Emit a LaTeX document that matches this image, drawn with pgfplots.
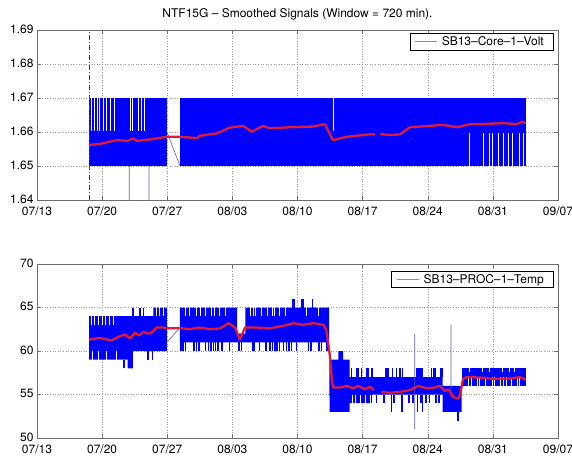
\documentclass[border=0pt]{standalone}
\usepackage{fontspec}
\setmainfont{TeX Gyre Heros}
\usepackage{pgfplots}
\pgfplotsset{compat=1.18}

\definecolor{mblue}{RGB}{0,0,255}
\definecolor{mred}{RGB}{222,28,55}
\definecolor{thinline}{RGB}{95,95,155}
\definecolor{legline}{RGB}{140,140,165}
\definecolor{axgray}{RGB}{110,110,110}
\definecolor{gridgray}{RGB}{150,150,150}

\pgfplotsset{
  mstyle/.style={
    scale only axis, width=521pt,
    xmin=0, xmax=56,
    xtick={0,7,...,56},
    xticklabels={07/13,07/20,07/27,08/03,08/10,08/17,08/24,08/31,09/07},
    tick align=inside, major tick length=4pt,
    axis line style={draw=axgray, line width=0.5pt},
    tick style={draw=axgray, line width=0.5pt},
    grid=major,
    major grid style={dotted, gridgray, line width=0.5pt},
    ticklabel style={font=\fontsize{12}{14}\selectfont},
    xticklabel style={yshift=-3pt},
    yticklabel style={yshift=1pt},
    unbounded coords=jump,
    legend style={draw=black, line width=0.5pt, font=\fontsize{12}{14}\selectfont,
      inner xsep=5pt, inner ysep=1pt, legend cell align=left,
      nodes={inner xsep=4pt}},
    legend image code/.code={\draw[#1] (-2pt,0pt) -- (20pt,0pt);},
    title style={font=\fontsize{12}{14}\selectfont, yshift=0pt},
  },
  whitegap/.style={white, line width=0.8pt, forget plot},
  comb/.style={mblue, line width=1.6pt, forget plot},
  thin/.style={thinline, line width=0.6pt, forget plot},
  smooth/.style={mred, line width=2.3pt, line join=round, forget plot},
}

\begin{document}
\begin{tikzpicture}
\path[use as bounding box] (0pt,0pt) rectangle (572pt,456pt);

% ---------- top: core voltage ----------
\begin{axis}[mstyle, at={(37pt,256pt)}, anchor=south west, height=170pt,
  ymin=1.64, ymax=1.69,
  ytick={1.64,1.65,1.66,1.67,1.68,1.69},
  yticklabels={1.64,1.65,1.66,1.67,1.68,1.69},
  title={NTF15G -- Smoothed Signals (Window = 720 min).},
  legend style={at={(0.9904,0.982)}, anchor=north east}]

\addplot[fill=mblue, draw=none, forget plot] coordinates {
  (5.59,1.65)(5.59,1.67)(13.97,1.67)(13.97,1.65)};
\addplot[fill=mblue, draw=none, forget plot] coordinates {
  (15.37,1.65)(15.37,1.67)(52.56,1.67)(52.56,1.65)};

% samples that never reached the top / bottom level
\addplot[whitegap] coordinates {
  (5.9,1.6603)(5.9,1.671)(5.9,nan)
  (6.2,1.6603)(6.2,1.671)(6.2,nan)
  (6.45,1.6603)(6.45,1.671)(6.45,nan)
  (6.75,1.6603)(6.75,1.671)(6.75,nan)
  (7.15,1.6603)(7.15,1.671)(7.15,nan)
  (7.45,1.6603)(7.45,1.671)(7.45,nan)
  (7.9,1.6603)(7.9,1.671)(7.9,nan)
  (8.3,1.6603)(8.3,1.671)(8.3,nan)
  (10.05,1.6603)(10.05,1.671)(10.05,nan)
  (10.25,1.6603)(10.25,1.671)(10.25,nan)
  (10.9,1.6603)(10.9,1.671)(10.9,nan)
  (11.2,1.6603)(11.2,1.671)(11.2,nan)
  (11.5,1.6603)(11.5,1.671)(11.5,nan)
  (31.9,1.6603)(31.9,1.671)(31.9,nan)
  (46.43,1.649)(46.43,1.6597)(46.43,nan)
  (47.94,1.649)(47.94,1.6597)(47.94,nan)
  (48.58,1.649)(48.58,1.6597)(48.58,nan)
  (48.9,1.649)(48.9,1.6597)(48.9,nan)
  (49.55,1.649)(49.55,1.6597)(49.55,nan)
  (50.09,1.649)(50.09,1.6597)(50.09,nan)
  (50.62,1.649)(50.62,1.6597)(50.62,nan)
  (51.05,1.649)(51.05,1.6597)(51.05,nan)
  (51.8,1.649)(51.8,1.6597)(51.8,nan)
  (52.24,1.649)(52.24,1.6597)(52.24,nan)
};

\addplot[thin] coordinates {
  (9.92,1.65)(9.92,1.64)(9.92,nan)
  (12.04,1.65)(12.04,1.64)(12.04,nan)
  (13.97,1.66)(15.37,1.65)
};

\addplot[black!75, line width=0.5pt, dash pattern=on 5pt off 2pt on 1pt off 2pt, forget plot]
  coordinates {(5.59,1.64)(5.59,1.69)};

\addplot[smooth] coordinates {
  (5.59,1.6562)(6.77,1.6565)(8.57,1.6576)(9.75,1.6574)(10.32,1.6581)(10.75,1.6574)
  (12.15,1.6578)(13.94,1.6586)(15.37,1.6586)(17.2,1.6582)(17.52,1.6589)(19.35,1.6596)
  (20.74,1.6613)(22.14,1.6618)(23.11,1.6601)(24.29,1.6618)(25.04,1.6611)(27.19,1.6614)
  (29.66,1.6616)(30.95,1.6623)(31.81,1.6576)(33.32,1.6586)(35.04,1.6591)(36.11,1.6594)
  (36.33,1.6591)(36.6,nan)(36.87,1.6594)(37.94,1.6591)(39.02,1.6593)(40.09,1.6614)
  (42.24,1.6618)(43.64,1.6621)(45.14,1.6614)(46.54,1.6623)(48.37,1.6624)(50.09,1.6626)
  (51.59,1.6623)(52.13,1.663)(52.56,1.6626)
};

\addlegendimage{legline, line width=0.9pt}
\addlegendentry{SB13--Core--1--Volt}
\end{axis}

% ---------- bottom: processor temperature ----------
\begin{axis}[mstyle, at={(37pt,18pt)}, anchor=south west, height=174pt,
  ymin=50, ymax=70,
  ytick={50,55,60,65,70},
  yticklabels={50,55,60,65,70},
  legend style={at={(0.9904,0.96)}, anchor=north east}]

\addplot[fill=mblue, draw=none, forget plot] coordinates {
  (5.59,59)(5.59,64)(12.5,64)(12.5,65)(13.97,65)(13.97,60)(10.3,60)(10.3,58)(9.75,58)(9.75,59)};
\addplot[fill=mblue, draw=none, forget plot] coordinates {
  (15.37,61)(15.37,65)(21.5,65)(21.5,62)(22.4,62)(22.4,65)(31.4,65)(31.4,61)};
\addplot[fill=mblue, draw=none, forget plot] coordinates {
  (31.4,61)(31.45,59)(32.4,59)(32.4,60)(32.9,60)(32.9,59)(33.6,59)(33.6,57)(43.6,57)
  (43.6,56)(45.65,56)(45.65,53)(43.6,53)(43.6,55)(36.0,55)(36.0,54)(33.6,54)(33.6,53)(31.45,53)};
\addplot[fill=mblue, draw=none, forget plot] coordinates {
  (45.65,56)(45.65,58)(52.56,58)(52.56,56)};

% single excursions to the neighbouring levels
\addplot[comb] coordinates {
  (9.35,59)(9.35,58)(9.35,nan)
  (10.35,64)(10.35,65)(10.35,nan)
  (11.07,64)(11.07,65)(11.07,nan)
  (11.43,64)(11.43,65)(11.43,nan)
  (11.9,60)(11.9,59)(11.9,nan)
  (12.4,60)(12.4,59)(12.4,nan)
  (15.45,61)(15.45,60)(15.45,nan)(15.7,61)(15.7,60)(15.7,nan)(15.95,61)(15.95,60)(15.95,nan)
  (16.9,61)(16.9,60)(16.9,nan)(17.15,61)(17.15,60)(17.15,nan)(17.4,61)(17.4,60)(17.4,nan)
  (18.1,61)(18.1,60)(18.1,nan)(18.45,61)(18.45,60)(18.45,nan)(18.7,61)(18.7,60)(18.7,nan)
  (18.95,61)(18.95,60)(18.95,nan)(19.2,61)(19.2,60)(19.2,nan)(19.45,61)(19.45,60)(19.45,nan)
  (19.9,61)(19.9,60)(19.9,nan)(20.7,61)(20.7,60)(20.7,nan)(21.7,61)(21.7,60)(21.7,nan)
  (22.0,61)(22.0,60)(22.0,nan)(23.15,61)(23.15,60)(23.15,nan)(23.35,61)(23.35,60)(23.35,nan)
  (23.9,61)(23.9,60)(23.9,nan)(24.6,61)(24.6,60)(24.6,nan)(25.05,61)(25.05,60)(25.05,nan)
  (25.3,61)(25.3,60)(25.3,nan)(25.55,61)(25.55,60)(25.55,nan)(25.8,61)(25.8,60)(25.8,nan)
  (26.05,61)(26.05,60)(26.05,nan)(26.5,61)(26.5,60)(26.5,nan)(26.8,61)(26.8,60)(26.8,nan)
  (27.1,61)(27.1,60)(27.1,nan)(27.35,61)(27.35,60)(27.35,nan)(27.9,61)(27.9,60)(27.9,nan)
  (29.2,61)(29.2,60)(29.2,nan)(29.45,61)(29.45,60)(29.45,nan)(30.3,61)(30.3,60)(30.3,nan)
  (30.6,61)(30.6,60)(30.6,nan)(31.2,61)(31.2,60)(31.2,nan)
  (27.5,65)(27.5,66)(27.5,nan)(27.65,65)(27.65,66)(27.65,nan)(28.5,65)(28.5,66)(28.5,nan)
  (28.6,65)(28.6,66)(28.6,nan)(29.6,65)(29.6,66)(29.6,nan)
  (33.8,57)(33.8,58)(33.8,nan)(34.4,57)(34.4,58)(34.4,nan)(34.5,57)(34.5,58)(34.5,nan)
  (34.9,57)(34.9,58)(34.9,nan)(35.4,57)(35.4,58)(35.4,nan)(35.55,57)(35.55,58)(35.55,nan)
  (36.0,57)(36.0,58)(36.0,nan)(37.45,57)(37.45,58)(37.45,nan)(37.6,57)(37.6,58)(37.6,nan)
  (37.8,57)(37.8,58)(37.8,nan)(38.2,57)(38.2,58)(38.2,nan)(38.65,57)(38.65,58)(38.65,nan)
  (39.0,57)(39.0,58)(39.0,nan)(39.3,57)(39.3,58)(39.3,nan)(40.85,57)(40.85,58)(40.85,nan)
  (41.0,57)(41.0,58)(41.0,nan)(41.15,57)(41.15,58)(41.15,nan)(41.4,57)(41.4,58)(41.4,nan)
  (42.4,57)(42.4,58)(42.4,nan)(42.65,57)(42.65,58)(42.65,nan)(42.8,57)(42.8,58)(42.8,nan)
  (43.35,57)(43.35,58)(43.35,nan)(43.5,57)(43.5,58)(43.5,nan)
  (36.5,55)(36.5,54)(36.5,nan)(37.3,55)(37.3,54)(37.3,nan)(38.1,55)(38.1,53)(38.1,nan)
  (38.4,55)(38.4,54)(38.4,nan)(39.2,55)(39.2,53)(39.2,nan)(40.0,55)(40.0,54)(40.0,nan)
  (40.4,55)(40.4,54)(40.4,nan)(40.9,55)(40.9,53)(40.9,nan)(41.3,55)(41.3,54)(41.3,nan)
  (41.45,55)(41.45,53)(41.45,nan)(41.8,55)(41.8,54)(41.8,nan)(42.2,55)(42.2,54)(42.2,nan)
  (42.9,55)(42.9,54)(42.9,nan)(43.2,55)(43.2,54)(43.2,nan)
  (45.25,53)(45.25,52)(45.25,nan)
};

\addplot[whitegap] coordinates {
  (5.8,63)(5.8,64.1)(5.8,nan)(6.13,63)(6.13,64.1)(6.13,nan)(6.6,63)(6.6,64.1)(6.6,nan)
  (7.06,63)(7.06,64.1)(7.06,nan)(7.3,63)(7.3,64.1)(7.3,nan)(7.77,63)(7.77,64.1)(7.77,nan)
  (8.2,63)(8.2,64.1)(8.2,nan)
  (5.95,58.9)(5.95,60)(5.95,nan)(6.6,58.9)(6.6,60)(6.6,nan)(7.5,58.9)(7.5,60)(7.5,nan)
  (8.55,58.9)(8.55,60)(8.55,nan)
  (12.8,64)(12.8,65.1)(12.8,nan)(13.15,64)(13.15,65.1)(13.15,nan)(13.57,64)(13.57,65.1)(13.57,nan)
  (15.9,64)(15.9,65.1)(15.9,nan)(16.4,64)(16.4,65.1)(16.4,nan)(17.1,64)(17.1,65.1)(17.1,nan)
  (17.6,64)(17.6,65.1)(17.6,nan)(18.15,64)(18.15,65.1)(18.15,nan)(18.7,64)(18.7,65.1)(18.7,nan)
  (19.05,64)(19.05,65.1)(19.05,nan)(19.6,64)(19.6,65.1)(19.6,nan)(20.3,64)(20.3,65.1)(20.3,nan)
  (22.9,64)(22.9,65.1)(22.9,nan)(23.25,64)(23.25,65.1)(23.25,nan)(23.5,64)(23.5,65.1)(23.5,nan)
  (24.15,64)(24.15,65.1)(24.15,nan)(24.8,64)(24.8,65.1)(24.8,nan)(25.3,64)(25.3,65.1)(25.3,nan)
  (25.5,64)(25.5,65.1)(25.5,nan)(26.1,64)(26.1,65.1)(26.1,nan)(26.7,64)(26.7,65.1)(26.7,nan)
  (29.0,64)(29.0,65.1)(29.0,nan)(30.2,64)(30.2,65.1)(30.2,nan)
  (33.9,53.9)(33.9,55)(33.9,nan)(34.2,53.9)(34.2,55)(34.2,nan)(34.75,53.9)(34.75,55)(34.75,nan)
  (35.3,53.9)(35.3,55)(35.3,nan)(35.8,53.9)(35.8,55)(35.8,nan)
  (46.4,55.9)(46.4,57)(46.4,nan)(46.7,55.9)(46.7,57)(46.7,nan)(47.3,55.9)(47.3,57)(47.3,nan)
  (47.6,55.9)(47.6,57)(47.6,nan)(48.2,55.9)(48.2,57)(48.2,nan)(48.9,55.9)(48.9,57)(48.9,nan)
  (49.2,55.9)(49.2,57)(49.2,nan)(49.8,55.9)(49.8,57)(49.8,nan)(50.1,55.9)(50.1,57)(50.1,nan)
  (50.5,55.9)(50.5,57)(50.5,nan)(51.0,55.9)(51.0,57)(51.0,nan)(51.6,55.9)(51.6,57)(51.6,nan)
  (51.9,55.9)(51.9,57)(51.9,nan)
  (46.5,57.6)(46.5,58.1)(46.5,nan)(47.9,57.6)(47.9,58.1)(47.9,nan)(48.6,57.6)(48.6,58.1)(48.6,nan)
  (50.0,57.6)(50.0,58.1)(50.0,nan)(50.8,57.6)(50.8,58.1)(50.8,nan)(51.3,57.6)(51.3,58.1)(51.3,nan)
};

\addplot[thin] coordinates {
  (13.97,61.0)(15.37,62.7)(15.37,nan)
  (40.6,51)(40.6,62)(40.6,nan)
  (44.5,55)(44.5,63)
};

\addplot[smooth] coordinates {
  (5.59,61.3)(6.77,61.5)(8.0,61.2)(8.7,61.6)(9.46,61.9)(10.0,61.45)(10.53,62.1)(11.0,61.8)
  (11.43,62.2)(11.97,62.0)(12.3,62.1)(12.87,62.7)(13.6,62.7)(14.0,62.6)(15.37,62.65)
  (16.4,62.5)(17.5,62.7)(18.6,62.5)(19.7,62.6)(20.6,63.2)(21.3,62.7)(21.8,61.3)(22.36,62.7)
  (23.6,62.7)(25.0,62.6)(26.5,62.9)(27.6,63.2)(28.6,63.0)(29.7,63.2)(30.8,63.0)(31.1,62.4)
  (31.5,59.3)(31.7,56.6)(31.85,55.8)(32.6,55.8)(33.3,56.0)(34.0,55.7)(34.5,56.0)(35.25,55.6)
  (35.8,55.9)(36.2,55.5)(36.6,nan)(37.0,55.3)(37.9,55.2)(39.0,55.3)(40.1,55.5)(41.0,56.0)
  (41.9,55.7)(42.8,55.8)(43.3,56.0)(43.85,55.4)(44.2,55.6)(44.75,54.7)(45.3,54.5)(45.5,55.1)
  (45.8,56.8)(46.2,57.0)(47.6,56.95)(49.0,56.8)(50.5,56.8)(51.9,57.0)(52.56,56.7)
};

\addlegendimage{legline, line width=0.9pt}
\addlegendentry{SB13--PROC--1--Temp}
\end{axis}
\end{tikzpicture}
\end{document}
